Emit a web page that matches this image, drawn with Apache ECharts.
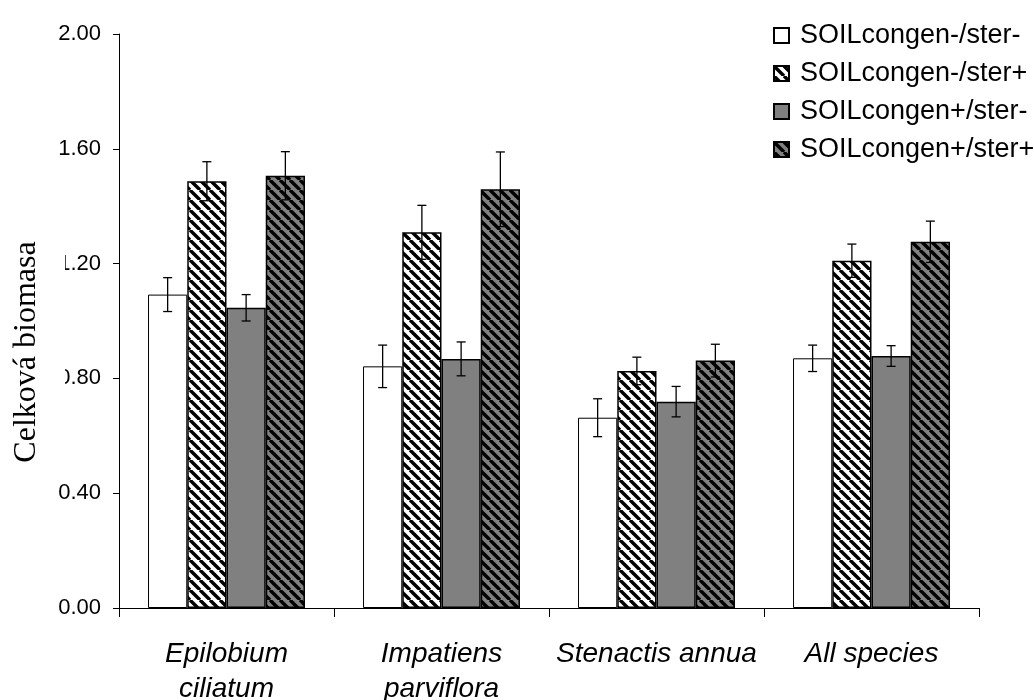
<!DOCTYPE html>
<html>
<head>
<meta charset="utf-8">
<script src="https://cdn.jsdelivr.net/npm/echarts@6/dist/echarts.min.js"></script>
<style>
  html, body { margin: 0; padding: 0; background: #fff; }
  #chart { width: 1034px; height: 700px; }
</style>
</head>
<body>
<div id="chart"></div>
<script>
// Species groups on the x axis
const categories = ['Epilobium\nciliatum', 'Impatiens\nparviflora', 'Stenactis annua', 'All species'];
const seriesNames = ['SOILcongen-/ster-', 'SOILcongen-/ster+', 'SOILcongen+/ster-', 'SOILcongen+/ster+'];

// Mean total biomass per treatment
const congenMinusSterMinus = [1.092, 0.842, 0.663, 0.870];
const congenMinusSterPlus  = [1.487, 1.309, 0.826, 1.210];
const congenPlusSterMinus  = [1.046, 0.868, 0.719, 0.878];
const congenPlusSterPlus   = [1.506, 1.459, 0.862, 1.276];

// Standard errors
const errCongenMinusSterMinus = [0.059, 0.074, 0.066, 0.046];
const errCongenMinusSterPlus  = [0.068, 0.094, 0.048, 0.058];
const errCongenPlusSterMinus  = [0.046, 0.059, 0.053, 0.036];
const errCongenPlusSterPlus   = [0.084, 0.130, 0.057, 0.072];

const yTicks = ['0.00', '0.40', '0.80', '1.20', '1.60', '2.00'];

const means = [congenMinusSterMinus, congenMinusSterPlus, congenPlusSterMinus, congenPlusSterPlus];
const errors = [errCongenMinusSterMinus, errCongenMinusSterPlus, errCongenPlusSterMinus, errCongenPlusSterPlus];

// Diagonal "\" hatch tile
function hatch(bg) {
  const size = 10;
  const c = document.createElement('canvas');
  c.width = size; c.height = size;
  const ctx = c.getContext('2d');
  ctx.fillStyle = bg;
  ctx.fillRect(0, 0, size, size);
  ctx.strokeStyle = '#000';
  ctx.lineWidth = 3.4;
  ctx.beginPath();
  for (const k of [-size, 0, size]) {
    ctx.moveTo(k, 0);
    ctx.lineTo(k + size, size);
  }
  ctx.stroke();
  return c;
}

const fills = [
  '#ffffff',
  { image: hatch('#ffffff'), repeat: 'repeat' },
  '#808080',
  { image: hatch('#808080'), repeat: 'repeat' }
];

const CAT_GAP = 0.27;
const N = 4;

const barSeries = means.map((vals, i) => ({
  name: seriesNames[i],
  type: 'bar',
  data: vals,
  yAxisIndex: 0,
  barGap: '0%',
  barCategoryGap: (CAT_GAP * 100) + '%',
  itemStyle: { color: fills[i], borderColor: '#000', borderWidth: i === 0 ? 1 : 1.5 },
  emphasis: { disabled: true },
  z: 2
}));

const errorSeries = means.map((vals, i) => ({
  name: seriesNames[i] + ' err',
  type: 'custom',
  yAxisIndex: 0,
  data: vals.map((v, j) => [j, v, errors[i][j]]),
  z: 5,
  silent: true,
  renderItem: function (params, api) {
    const j = api.value(0), v = api.value(1), e = api.value(2);
    const band = api.size([1, 0])[0];
    const barW = band * (1 - CAT_GAP) / N;
    const center = api.coord([j, v]);
    const x = center[0] - band * (1 - CAT_GAP) / 2 + barW * (i + 0.5);
    const top = api.coord([j, v + e])[1];
    const bot = api.coord([j, v - e])[1];
    const cap = 4.5;
    const style = { stroke: '#000', lineWidth: 1.3 };
    return {
      type: 'group',
      children: [
        { type: 'line', shape: { x1: x, y1: top, x2: x, y2: bot }, style },
        { type: 'line', shape: { x1: x - cap, y1: top, x2: x + cap, y2: top }, style },
        { type: 'line', shape: { x1: x - cap, y1: bot, x2: x + cap, y2: bot }, style }
      ]
    };
  }
}));

const chart = echarts.init(document.getElementById('chart'), null, { renderer: 'canvas' });
chart.setOption({
  animation: false,
  backgroundColor: '#fff',
  grid: { left: 119, right: 55, top: 34, bottom: 92, containLabel: false, outerBoundsMode: 'none' },
  legend: {
    data: seriesNames,
    orient: 'vertical',
    left: 768,
    top: 17,
    itemWidth: 15,
    itemHeight: 15,
    itemGap: 11,
    icon: 'rect',
    selectedMode: false,
    textStyle: {
      fontFamily: 'Liberation Sans, Arial, sans-serif',
      fontSize: 27,
      lineHeight: 27,
      color: '#000',
      padding: [0, 0, 0, 6]
    }
  },
  xAxis: {
    type: 'category',
    data: categories,
    boundaryGap: true,
    axisLine: { lineStyle: { color: '#000', width: 1 } },
    axisTick: { show: true, interval: 0, length: 9, alignWithLabel: false, lineStyle: { color: '#000' } },
    axisLabel: {
      interval: 0,
      margin: 29,
      fontFamily: 'Liberation Sans, Arial, sans-serif',
      fontStyle: 'italic',
      fontSize: 28,
      lineHeight: 35,
      color: '#000'
    },
    splitLine: { show: false }
  },
  yAxis: [
    {
      type: 'value',
      position: 'left',
      min: 0,
      max: 2,
      interval: 0.4,
      z: 0,
      axisLine: { show: true, lineStyle: { color: '#000', width: 1 } },
      axisTick: { show: true, length: 6, lineStyle: { color: '#000' } },
      axisLabel: {
        margin: 18,
        fontFamily: 'Liberation Sans, Arial, sans-serif',
        fontSize: 22,
        color: '#000',
        formatter: (v) => yTicks[Math.round(v / 0.4)]
      },
      splitLine: { show: false }
    },
    {
      // Axis title, drawn on its own layer above the tick labels
      type: 'value',
      position: 'left',
      offset: 0,
      min: 0,
      max: 2,
      z: 10,
      name: 'Celková biomasa',
      nameLocation: 'middle',
      nameGap: 92,
      nameRotate: 90,
      nameMoveOverlap: false,
      nameTextStyle: {
        fontFamily: 'Liberation Serif, Times New Roman, serif',
        fontSize: 32,
        lineHeight: 32,
        color: '#000',
        align: 'center',
        verticalAlign: 'middle',
        backgroundColor: '#fff',
        padding: [0, 62, 44, 0]
      },
      axisLine: { show: false },
      axisTick: { show: false },
      axisLabel: { show: false },
      splitLine: { show: false }
    }
  ],
  series: barSeries.concat(errorSeries)
});
</script>
</body>
</html>
